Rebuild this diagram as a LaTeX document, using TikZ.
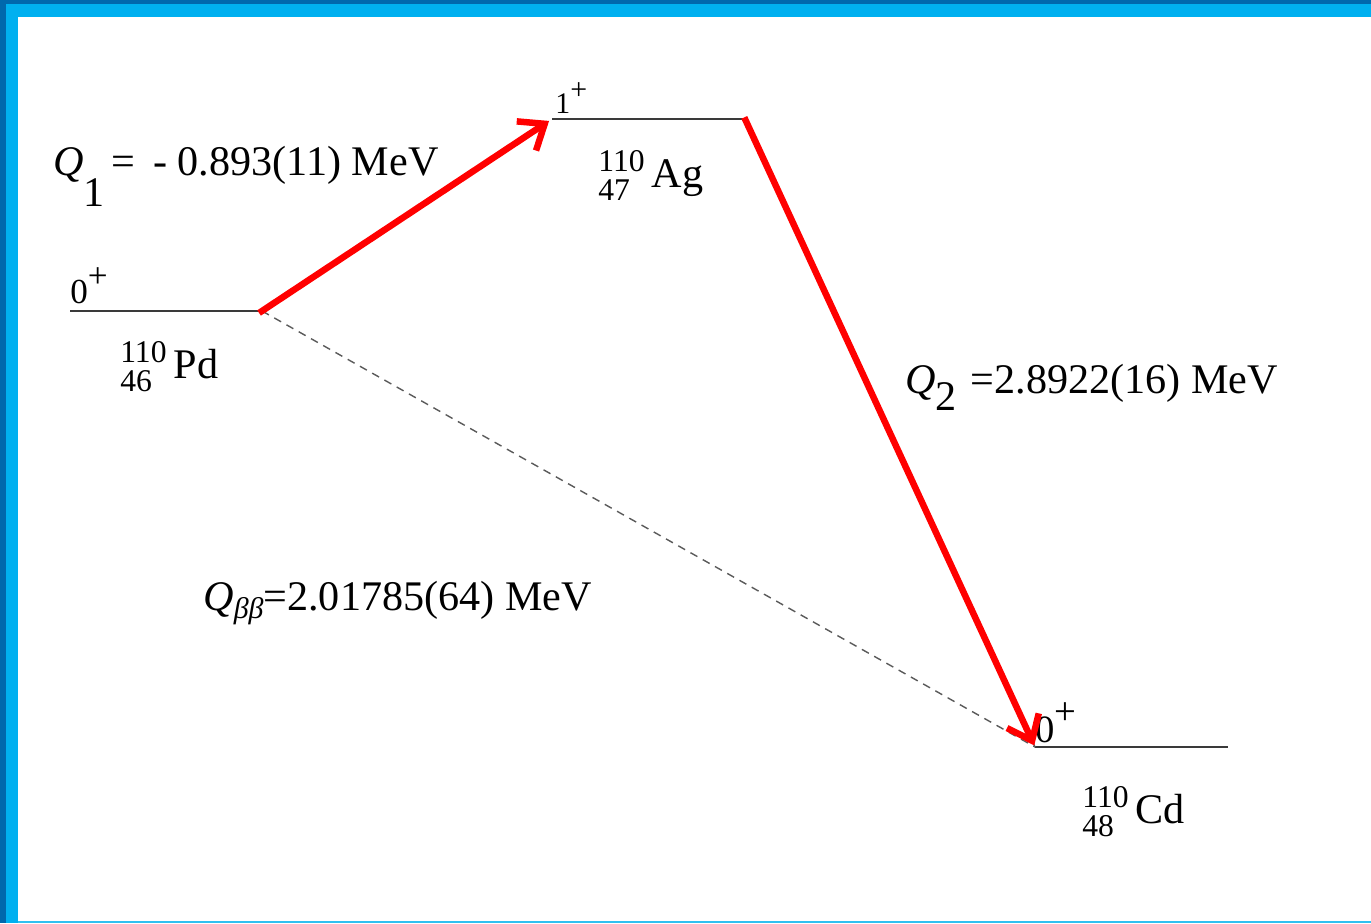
\documentclass[tikz,border=0pt]{standalone}
\usepackage{fontspec}
\setmainfont{Liberation Serif}
\usepackage{xcolor}
\usepackage{tikz}
\usetikzlibrary{arrows.meta}

\definecolor{frameDark}{HTML}{0068AD}
\definecolor{frameLight}{HTML}{00B0F0}
\definecolor{frameLine}{HTML}{30C0F0}
\definecolor{levelGray}{HTML}{3A3A3A}
\definecolor{dashGray}{HTML}{5A5A5A}

% nuclide symbol: mass number over charge number, then element
\newcommand{\nuc}[3]{{\fontsize{18}{15.5}\selectfont\begin{tabular}{@{}l@{}}#1\\#2\end{tabular}}\,#3}
% spin and parity of a level
\newcommand{\jp}[1]{#1\raisebox{0.45em}{+}}

\begin{document}
\begin{tikzpicture}[
  x=0.02cm, y=-0.02cm,
  level/.style={draw=levelGray, line width=1.6pt},
  decay/.style={draw=red, line width=3.7pt, line join=round,
    -{Straight Barb[length=4.4mm, width=7mm]}},
  direct/.style={draw=dashGray, line width=0.8pt, dash pattern=on 4.5pt off 3.5pt},
  lbl/.style={inner sep=0pt, anchor=base west, font=\fontsize{24}{28}\selectfont},
  spin/.style={inner sep=0pt, anchor=base west}
]
\useasboundingbox (0,0) rectangle (1371,923);
% frame
\fill[frameLight] (0,0) rectangle (1371,17);
\fill[frameLight] (0,0) rectangle (18,923);
\fill[frameDark] (0,0) rectangle (1371,4);
\fill[frameDark] (0,0) rectangle (6,923);
\fill[frameLine] (18,921) rectangle (1371,923);

% levels
\coordinate (pdL) at (70,311);   \coordinate (pdR) at (262,311);
\coordinate (agL) at (552,119);  \coordinate (agR) at (745,119);
\coordinate (cdL) at (1035,747); \coordinate (cdR) at (1228,747);
\draw[level] (pdL) -- (pdR);
\draw[level] (agL) -- (agR);
\draw[level] (cdL) -- (cdR);

\node[spin, font=\fontsize{20}{22}\selectfont] (pdSpin) at (70,303) {\jp{0}};
\node[spin, font=\fontsize{17}{19}\selectfont] (agSpin) at (555,113) {\jp{1}};
\node[spin, font=\fontsize{22}{24}\selectfont] (cdSpin) at (1035,742) {\jp{0}};

\node[lbl] (pdName) at (120,378) {\nuc{110}{46}{Pd}};
\node[lbl] (agName) at (598,187) {\nuc{110}{47}{Ag}};
\node[lbl] (cdName) at (1082,823) {\nuc{110}{48}{Cd}};

% transitions
\draw[direct] (pdR) -- (cdL);
\draw[direct] (agR) -- (cdL);
\draw[decay, shorten <=-2pt, shorten >=2pt] (pdR) -- (agL);
\draw[decay, shorten <=-1pt, shorten >=1pt] (agR) -- (cdL);

% Q values
\node[lbl] (qOne) at (53,175) {\textit{Q}\raisebox{-0.62cm}{1}\,= \,- 0.893(11) MeV};
\node[lbl] (qTwo) at (905,393) {\textit{Q}\raisebox{-0.34cm}{2}\,\,=2.8922(16) MeV};
\node[lbl] (qBB) at (203,610) {\textit{Q}\raisebox{-0.16cm}{\fontsize{17}{17}\selectfont\itshape ββ}=2.01785(64) MeV};
\end{tikzpicture}
\end{document}
